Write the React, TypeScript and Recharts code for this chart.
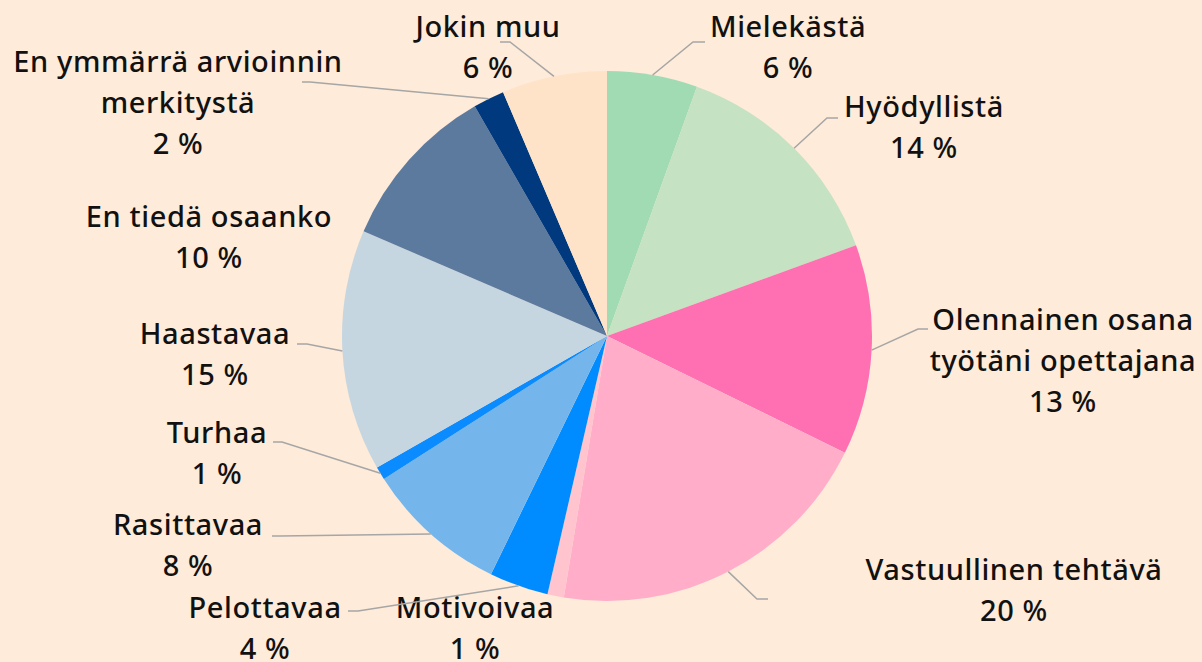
import { PieChart, Pie, Cell } from 'recharts'

// Answer categories, clockwise from 12 o'clock
const categories = [
  'Mielekästä',
  'Hyödyllistä',
  'Olennainen osana\ntyötäni opettajana',
  'Vastuullinen tehtävä',
  'Motivoivaa',
  'Pelottavaa',
  'Rasittavaa',
  'Turhaa',
  'Haastavaa',
  'En tiedä osaanko',
  'En ymmärrä arvioinnin\nmerkitystä',
  'Jokin muu',
]

// Share of answers (%)
const shares = [5.5, 13.9, 12.8, 20.3, 1.0, 3.6, 8.7, 0.8, 14.7, 10.2, 1.9, 6.4]

// Rounded percentages shown in the labels
const percentLabels = ['6 %', '14 %', '13 %', '20 %', '1 %', '4 %', '8 %', '1 %', '15 %', '10 %', '2 %', '6 %']

const colors = [
  '#a1dbb3',
  '#c5e2c2',
  '#ff70b3',
  '#ffadc8',
  '#ffc4cd',
  '#008cff',
  '#74b6ec',
  '#0a8bff',
  '#c5d6e1',
  '#5b7a9e',
  '#00397d',
  '#fee3c9',
]

const data = categories.map((name, i) => ({ name, value: shares[i], pct: percentLabels[i] }))

// Label placement: text centre x, first baseline y, leader elbow and end (null = no leader)
const labelLayout: { tx: number; ty: number; line: number[] | null }[] = [
  { tx: 788, ty: 37, line: [693, 42, 705, 42] },
  { tx: 924, ty: 117, line: [827, 118, 838, 118] },
  { tx: 1063, ty: 330, line: [918, 329, 928, 329] },
  { tx: 1014, ty: 580, line: [757, 599, 768, 599] },
  { tx: 475, ty: 618, line: null },
  { tx: 265, ty: 618, line: [358, 611, 348, 611] },
  { tx: 188, ty: 535, line: [280, 536, 272, 536] },
  { tx: 217, ty: 443, line: [282, 442, 273, 442] },
  { tx: 215, ty: 344, line: [307, 344, 297, 344] },
  { tx: 209, ty: 227, line: null },
  { tx: 178, ty: 72, line: [310, 82, 302, 82] },
  { tx: 488, ty: 37, line: [510, 42, 500, 42] },
]

const RAD = Math.PI / 180
const LINE_H = 41

const renderLabel = (props: any) => {
  const { cx, cy, midAngle, outerRadius, index, payload } = props
  const layout = labelLayout[index]
  const sx = cx + outerRadius * Math.cos(-midAngle * RAD)
  const sy = cy + outerRadius * Math.sin(-midAngle * RAD)
  const lines = [...String(payload?.name ?? categories[index]).split('\n'), percentLabels[index]]
  return (
    <g key={`label-${index}`}>
      {layout.line && (
        <polyline
          points={`${sx},${sy} ${layout.line[0]},${layout.line[1]} ${layout.line[2]},${layout.line[3]}`}
          fill="none"
          stroke="#a6a6a6"
          strokeWidth={1.5}
        />
      )}
      <text
        x={layout.tx}
        y={layout.ty}
        textAnchor="middle"
        fill="#111"
        fontSize={29}
        fontWeight={500}
        letterSpacing={0.6}
        fontFamily="'Noto Sans', sans-serif"
      >
        {lines.map((l, i) => (
          <tspan key={i} x={layout.tx} y={layout.ty + i * LINE_H}>
            {l}
          </tspan>
        ))}
      </text>
    </g>
  )
}

export default function App() {
  return (
    <div
      style={{
        position: 'absolute',
        left: 0,
        top: 0,
        width: 1202,
        height: 662,
        background: '#feebd9',
        overflow: 'hidden',
      }}
    >
      <PieChart width={1202} height={662} margin={{ top: 0, right: 0, bottom: 0, left: 0 }}>
        <Pie
          data={data}
          dataKey="value"
          nameKey="name"
          cx={607}
          cy={336}
          outerRadius={265}
          startAngle={90}
          endAngle={-270}
          stroke="none"
          label={renderLabel}
          labelLine={false}
          isAnimationActive={false}
        >
          {data.map((entry, index) => (
            <Cell key={`cell-${index}`} fill={colors[index]} />
          ))}
        </Pie>
      </PieChart>
    </div>
  )
}
